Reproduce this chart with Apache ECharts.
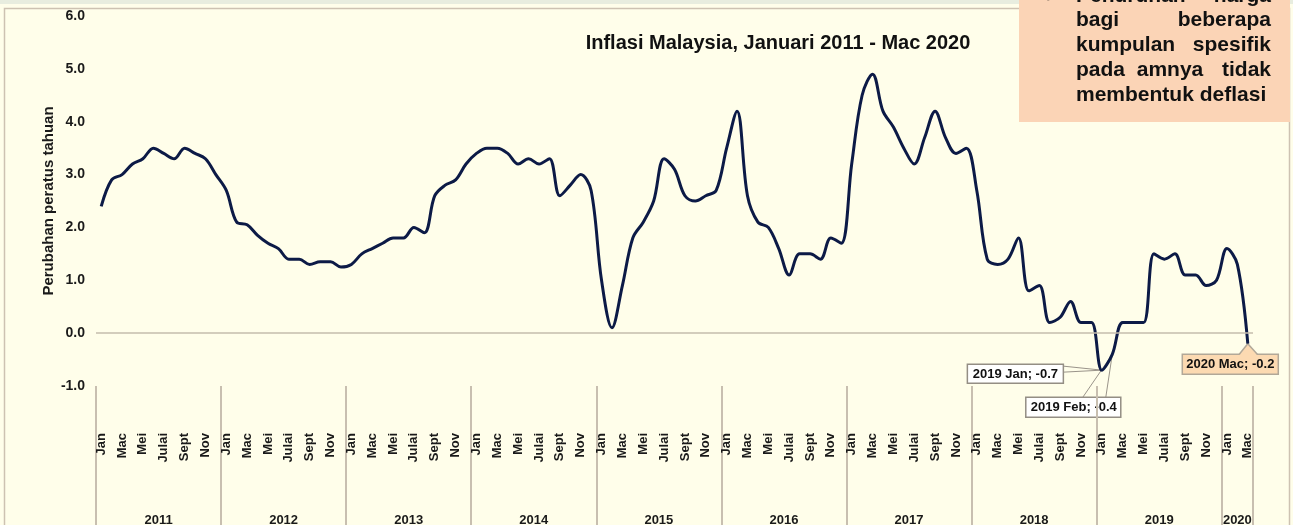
<!DOCTYPE html>
<html>
<head>
<meta charset="utf-8">
<title>Inflasi Malaysia</title>
<script src="https://cdn.jsdelivr.net/npm/echarts@6/dist/echarts.min.js"></script>
<style>
html, body { margin: 0; padding: 0; background: #fffeea; }
#chart { width: 1293px; height: 525px; }
</style>
</head>
<body>
<div id="chart"></div>
<script>
var FONT = '"Liberation Sans", Arial, sans-serif'

var monthNames = ['Jan', 'Feb', 'Mac', 'Apr', 'Mei', 'Jun', 'Julai', 'Ogos', 'Sept', 'Okt', 'Nov', 'Dis']
var yearList = ['2011', '2012', '2013', '2014', '2015', '2016', '2017', '2018', '2019', '2020']

// inflasi tahunan (%) ikut bulan
var inf2011 = [2.4, 2.9, 3.0, 3.2, 3.3, 3.5, 3.4, 3.3, 3.5, 3.4, 3.3, 3.0]
var inf2012 = [2.7, 2.1, 2.05, 1.85, 1.7, 1.6, 1.4, 1.4, 1.3, 1.35, 1.35, 1.25]
var inf2013 = [1.3, 1.5, 1.6, 1.7, 1.8, 1.8, 2.0, 1.9, 2.6, 2.8, 2.9, 3.2]
var inf2014 = [3.4, 3.5, 3.5, 3.4, 3.2, 3.3, 3.2, 3.3, 2.6, 2.8, 3.0, 2.7]
var inf2015 = [1.0, 0.1, 0.9, 1.8, 2.1, 2.5, 3.3, 3.1, 2.6, 2.5, 2.6, 2.7]
var inf2016 = [3.5, 4.2, 2.6, 2.1, 2.0, 1.6, 1.1, 1.5, 1.5, 1.4, 1.8, 1.7]
var inf2017 = [3.2, 4.5, 4.9, 4.2, 3.9, 3.5, 3.2, 3.7, 4.2, 3.7, 3.4, 3.5]
var inf2018 = [2.7, 1.4, 1.3, 1.4, 1.8, 0.8, 0.9, 0.2, 0.3, 0.6, 0.2, 0.2]
var inf2019 = [-0.7, -0.4, 0.2, 0.2, 0.2, 1.5, 1.4, 1.5, 1.1, 1.1, 0.9, 1.0]
var inf2020 = [1.6, 1.3, -0.2]

// sempadan tahun dan tengah tahun (dalam bilangan bulan)
var yearBounds = [0, 12, 24, 36, 48, 60, 72, 84, 96, 108, 111]
var yearCenters = [6, 18, 30, 42, 54, 66, 78, 90, 102, 109.5]

var yTicks = [-1, 0, 1, 2, 3, 4, 5, 6]

// label titik (indeks bulan)
var noteIndex = [96, 97, 110]
var noteText = ['2019 Jan; -0.7', '2019 Feb; -0.4', '2020 Mac; -0.2']

var titleText = 'Inflasi Malaysia, Januari 2011 - Mac 2020'
var boxLines = [
    ['Penurunan', 'harga'],
    ['bagi', 'beberapa'],
    ['kumpulan', 'spesifik'],
    ['pada', 'amnya', 'tidak'],
    ['membentuk deflasi']
]

var byYear = [inf2011, inf2012, inf2013, inf2014, inf2015, inf2016, inf2017, inf2018, inf2019, inf2020]
var categories = []
var values = []
byYear.forEach(function (arr, y) {
    arr.forEach(function (v, m) {
        categories.push(monthNames[m] + ' ' + yearList[y])
        values.push(v)
    })
})

var myChart = echarts.init(document.getElementById('chart'))

var option = {
    animation: false,
    backgroundColor: '#fffeea',
    grid: {
        left: 96,
        right: 40,
        top: 16,
        bottom: 139,
        outerBoundsMode: 'none'
    },
    xAxis: [{
        type: 'category',
        data: categories,
        boundaryGap: true,
        axisLine: { show: false },
        axisTick: { show: false },
        axisLabel: {
            interval: 1,
            rotate: 90,
            margin: 47,
            fontSize: 13,
            fontWeight: 'bold',
            fontFamily: FONT,
            color: '#1a1a1a',
            formatter: function (val) {
                return val.split(' ')[0]
            }
        }
    }, {
        type: 'value',
        position: 'bottom',
        min: 0,
        max: 111,
        axisLine: { show: false },
        splitLine: { show: false },
        axisTick: {
            show: true,
            customValues: yearBounds,
            length: 140,
            lineStyle: { color: '#c8bfb0', width: 2 }
        },
        axisLabel: {
            customValues: yearCenters,
            margin: 128,
            fontSize: 13,
            fontWeight: 'bold',
            fontFamily: FONT,
            color: '#1a1a1a',
            formatter: function (val) {
                var i = yearCenters.indexOf(val)
                return i >= 0 ? yearList[i] : ''
            }
        }
    }],
    yAxis: {
        type: 'value',
        min: yTicks[0],
        max: yTicks[yTicks.length - 1],
        interval: 1,
        name: 'Perubahan peratus tahuan',
        nameLocation: 'middle',
        nameGap: 40,
        nameMoveOverlap: false,
        nameTextStyle: {
            fontSize: 15,
            fontWeight: 'bold',
            fontFamily: FONT,
            color: '#1a1a1a'
        },
        axisLine: { show: false },
        axisTick: { show: false },
        splitLine: { show: false },
        axisLabel: {
            margin: 11,
            fontSize: 14,
            fontWeight: 'bold',
            fontFamily: FONT,
            color: '#1a1a1a',
            formatter: function (v) {
                return v.toFixed(1)
            }
        }
    },
    series: [{
        type: 'line',
        data: values,
        smooth: 0.35,
        symbol: 'none',
        lineStyle: { color: '#0c1a46', width: 3 },
        markLine: {
            silent: true,
            symbol: ['none', 'none'],
            label: { show: false },
            lineStyle: { color: '#c5bcad', width: 1.5, type: 'solid' },
            data: [{ yAxis: 0 }]
        }
    }]
}
myChart.setOption(option)

// hiasan: jalur atas, bingkai, tajuk, kotak nota dan label titik
function textEl (str, x, y, size, align, extra) {
    var el = {
        type: 'text',
        x: x,
        y: y,
        style: {
            text: str,
            fontSize: size,
            fontWeight: 'bold',
            fontFamily: FONT,
            fill: '#111',
            align: align,
            verticalAlign: 'middle'
        }
    }
    return Object.assign(el, extra || {})
}

var graphics = [
    { type: 'rect', shape: { x: 0, y: 0, width: 1293, height: 4 }, style: { fill: '#e8eddf' } },
    { type: 'rect', shape: { x: 4.5, y: 8.5, width: 1285, height: 530 }, style: { fill: 'none', stroke: '#cdc2b2', lineWidth: 1.5 } },
    textEl(titleText, 778, 43.5, 20, 'center')
]

// kotak nota kanan atas
graphics.push({ type: 'rect', shape: { x: 1019, y: 0, width: 271, height: 122 }, style: { fill: '#fbd4b6' } })
var lineMid = [-4, 20.5, 45, 70, 95]
boxLines.forEach(function (words, i) {
    var y = lineMid[i]
    if (words.length === 1) {
        graphics.push(textEl(words[0], 1076, y, 21, 'left'))
    } else if (words.length === 2) {
        graphics.push(textEl(words[0], 1076, y, 21, 'left'))
        graphics.push(textEl(words[1], 1271, y, 21, 'right'))
    } else {
        graphics.push(textEl(words[0], 1076, y, 21, 'left'))
        graphics.push(textEl(words[1], 1170, y, 21, 'center'))
        graphics.push(textEl(words[2], 1271, y, 21, 'right'))
    }
})
graphics.push(textEl('\u2713', 1043, -4, 21, 'left', {}))

// label titik data
var pts = noteIndex.map(function (i) {
    return myChart.convertToPixel({ seriesIndex: 0 }, [i, values[i]])
})
var boxW = 96
var boxH = 20
var p1 = pts[0]
var b1 = { x: p1[0] - 134.5, y: p1[1] - 6 }
graphics.push({ type: 'polyline', shape: { points: [[b1.x + boxW, b1.y + 2], p1, [b1.x + boxW, b1.y + 8]] }, style: { fill: 'none', stroke: '#9a948a', lineWidth: 1 } })
graphics.push({ type: 'rect', shape: { x: b1.x, y: b1.y, width: boxW, height: boxH - 1 }, style: { fill: '#ffffff', stroke: '#948e84', lineWidth: 1.5 } })
graphics.push(textEl(noteText[0], b1.x + boxW / 2, b1.y + boxH / 2, 13, 'center'))

var p2 = pts[1]
var b2 = { x: p2[0] - 86.5, y: p2[1] + 43 }
graphics.push({ type: 'polyline', shape: { points: [[p2[0] - 29.5, b2.y], p2, [p2[0] - 6.5, b2.y]] }, style: { fill: 'none', stroke: '#9a948a', lineWidth: 1 } })
graphics.push({ type: 'rect', shape: { x: b2.x, y: b2.y, width: boxW - 1, height: boxH }, style: { fill: '#ffffff', stroke: '#948e84', lineWidth: 1.5 } })
graphics.push(textEl(noteText[1], b2.x + boxW / 2, b2.y + boxH / 2 + 0.5, 13, 'center'))

var p3 = pts[2]
var b3 = { x: p3[0] - 65.5, y: p3[1] + 10.5 }
graphics.push({ type: 'rect', shape: { x: b3.x, y: b3.y, width: boxW, height: boxH }, style: { fill: '#fcdab2', stroke: '#b2a898', lineWidth: 1.5 } })
graphics.push({ type: 'polygon', shape: { points: [[p3[0] - 8.5, b3.y + 1], [p3[0], p3[1]], [p3[0] + 9.5, b3.y + 1]] }, style: { fill: '#fcdab2' } })
graphics.push({ type: 'polyline', shape: { points: [[p3[0] - 8.5, b3.y], [p3[0], p3[1]], [p3[0] + 9.5, b3.y]] }, style: { fill: 'none', stroke: '#b2a898', lineWidth: 1.5 } })
graphics.push(textEl(noteText[2], b3.x + boxW / 2, b3.y + boxH / 2, 13, 'center'))

myChart.setOption({ graphic: graphics })
</script>
</body>
</html>
